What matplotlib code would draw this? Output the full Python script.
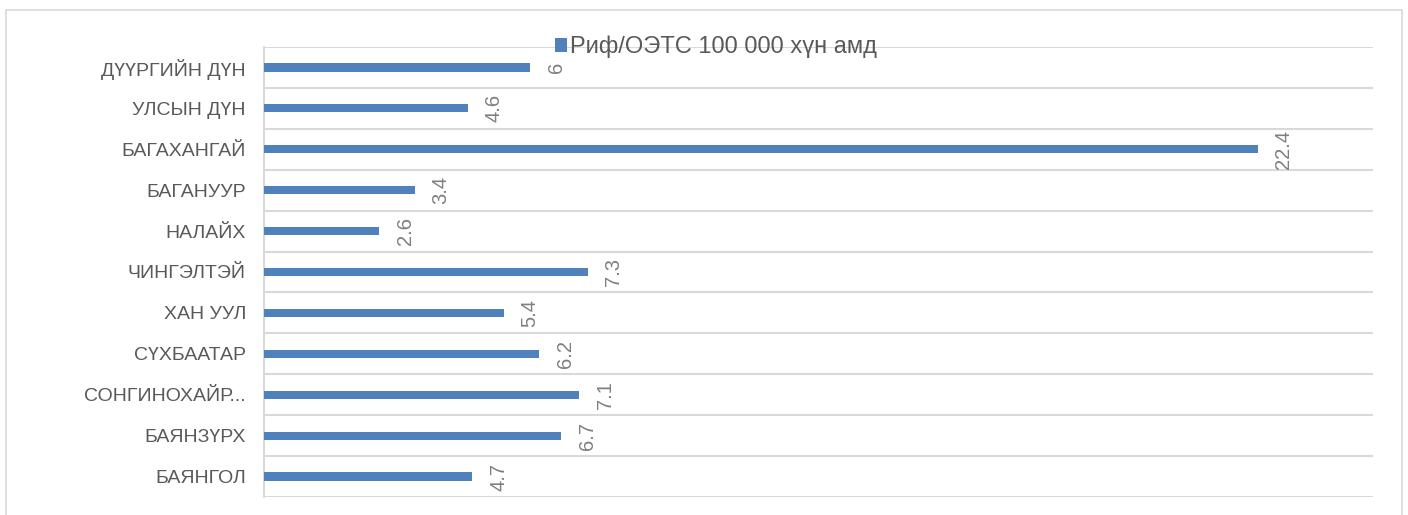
import matplotlib.pyplot as plt
from matplotlib.patches import Patch, Rectangle
import numpy as np

# 数据（从上到下）
districts = ['ДҮҮРГИЙН ДҮН', 'УЛСЫН ДҮН', 'БАГАХАНГАЙ', 'БАГАНУУР', 'НАЛАЙХ',
             'ЧИНГЭЛТЭЙ', 'ХАН УУЛ', 'СҮХБААТАР', 'СОНГИНОХАЙР...', 'БАЯНЗҮРХ', 'БАЯНГОЛ']
rate = [6, 4.6, 22.4, 3.4, 2.6, 7.3, 5.4, 6.2, 7.1, 6.7, 4.7]
series_name = 'Риф/ОЭТС 100 000 хүн амд'

plt.rcParams['font.family'] = ['Liberation Sans', 'DejaVu Sans']

bar_color = '#4F81BD'
grid_color = '#D9D9D9'
text_color = '#595959'
label_color = '#7F7F7F'

fig = plt.figure(figsize=(14.08, 5.15), dpi=100)
ax = fig.add_axes([264 / 1408, 1 - 497 / 515, (1373 - 264) / 1408, (497 - 47) / 515])

# 外框
fig.patches.append(Rectangle((6 / 1408, -0.05), (1402 - 6) / 1408, 1.05 - 10 / 515,
                             transform=fig.transFigure, fill=False,
                             edgecolor=grid_color, linewidth=1.2))

y = np.arange(len(districts))
ax.barh(y, rate, height=0.2, color=bar_color, zorder=3)

# 数值标签（竖排）
for yi, v in zip(y, rate):
    ax.annotate(f'{v:g}', (v, yi), xytext=(12, 0), textcoords='offset points',
                rotation=90, ha='left', va='center', fontsize=14.5, color=label_color)

ax.set_xlim(0, 25)
ax.set_ylim(len(districts) - 0.5, -0.5)
ax.set_yticks(y)
ax.set_yticklabels(districts, fontsize=14, color=text_color)
ax.set_yticks(np.arange(-0.5, len(districts), 1), minor=True)
ax.tick_params(axis='y', which='both', length=0, pad=13)
ax.set_xticks([])
ax.grid(axis='y', which='minor', color=grid_color, linewidth=1.5, zorder=0)

for s in ['top', 'right', 'bottom']:
    ax.spines[s].set_visible(False)
ax.spines['left'].set_color(grid_color)
ax.spines['left'].set_linewidth(1.5)

handle = Patch(facecolor=bar_color, label=series_name)
fig.legend(handles=[handle], loc='center left', bbox_to_anchor=(543 / 1408, 1 - 47 / 515),
           frameon=False, fontsize=17, handlelength=0.5, handleheight=0.5,
           handletextpad=0.15, borderpad=0, labelcolor=text_color)

plt.savefig('out.png', dpi=100)
plt.close()
